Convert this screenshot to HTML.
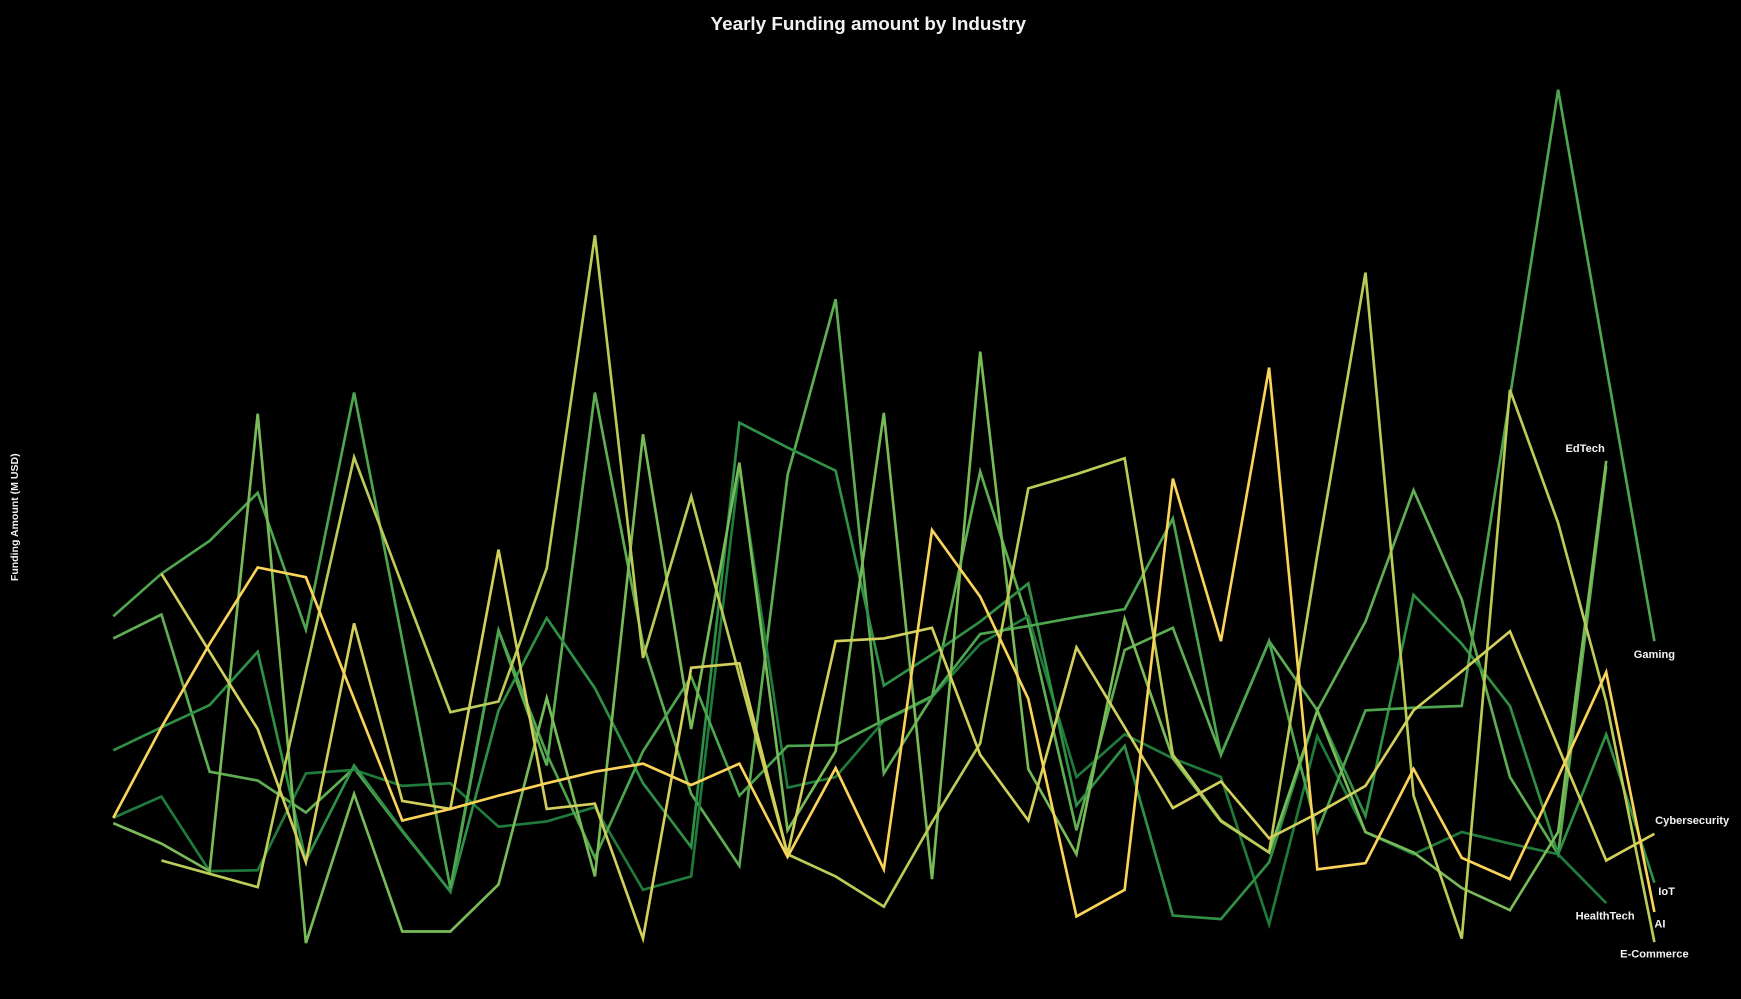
<!DOCTYPE html>
<html><head><meta charset="utf-8"><title>Yearly Funding amount by Industry</title>
<style>
html,body{margin:0;padding:0;background:#000;width:1741px;height:999px;overflow:hidden;}
svg{display:block;}
text{font-family:"Liberation Sans",sans-serif;fill:#f2f2f2;}
</style></head>
<body>
<svg id="chart" width="1741" height="999" viewBox="0 0 1568 900" preserveAspectRatio="none" xmlns="http://www.w3.org/2000/svg">
  <rect x="0" y="0" width="1568" height="900" fill="#000"/>
  <text x="782" y="27" text-anchor="middle" font-size="17" font-weight="bold">Yearly Funding amount by Industry</text>
  <text transform="translate(16,466) rotate(-90)" text-anchor="middle" font-size="9.5" font-weight="bold">Funding Amount (M USD)</text>
  <g id="lines"></g>
  <g id="labels"></g>
</svg>
<script>
const years = [];
for (let k = 0; k < 33; k++) years.push(1992 + k);
const seriesNames = ["Extra","HealthTech","IoT","Gaming","EdTech","E-Commerce","Cybersecurity","AI"];
const seriesColors = ["#5fae53","#1f7a3c","#2f9046","#4ea54f","#79bb58","#bccb57","#d2cf5c","#f9d35a"];
const aiValues = [17.9,28.1,37.5,46.1,45,31.3,17.6,18.9,20.4,21.8,23.1,24,21.6,24,13.5,23.5,12.1,50.3,42.8,31.3,6.8,9.8,56.1,37.8,68.6,12.1,12.8,23.4,13.4,11,22.5,34.3,7.3];
const cyberValues = [null,45.4,36.6,27.9,12.9,39.8,19.8,18.9,48.1,18.9,19.5,4.3,34.8,35.3,13.8,37.8,38.1,39.3,25,17.6,37.1,28.1,19,22,15.6,18.4,21.5,30,34.4,38.9,25.9,13.1,16.1];
const ecomValues = [null,13.1,11.6,10.1,34.4,58.5,44.1,29.8,31,46,83.5,35.9,54.1,33.9,13.8,11.3,7.9,17.4,26.3,55,56.6,58.4,25,17.6,14,47.5,79.3,20.4,4.3,66.1,51.1,31,3.9];
const gamingValues = [40.6,45.4,49.1,54.5,39.1,65.8,37.9,10,39,25.1,13.4,25.4,33.8,20.4,26,26.1,28.9,31.6,38.6,39.5,40.5,41.4,51.6,25,37.8,16.3,30,30.3,30.5,65.3,99.9,68.8,37.8];
const edtechValues = [17.3,15,11.9,63.4,3.8,20.6,5.1,5.1,10.4,31.4,11.3,61.1,27.9,57.9,16.5,25.4,63.5,11,70.4,23.4,13.8,40.3,24.6,17.5,14,30,16.3,14,10,7.5,16.3,58.1,null];
const extraValues = [38.1,40.8,23.1,22.1,18.5,23.5,16.4,9.6,39,23.8,65.8,37.5,20.6,12.5,56.5,76.3,22.9,31.5,56.9,40,16.5,36.8,39.3,25,37.8,30,40,54.8,42.5,22.5,13.8,57.5,null];
const iotValues = [25.5,28.1,30.6,36.6,13.1,23.8,16.5,9.6,30,40.4,32.5,21.8,14.6,62.4,59.6,57,32.8,36.3,40,44.3,19.3,26,6.9,6.5,12.9,30,18.1,43,37.5,30.5,13.8,27.3,10.6];
const healthValues = [17.9,20.3,11.9,12,22.9,23.3,21.5,21.8,16.9,17.5,19.1,9.8,11.3,57.5,21.3,22.5,28.8,31.5,37.5,40.6,22.5,27.3,24.6,22.5,5.9,27.1,16.3,13.8,16.3,15,13.8,8.3,null];
const allSeries = [extraValues,healthValues,iotValues,gamingValues,edtechValues,ecomValues,cyberValues,aiValues];
const labelText = ["","HealthTech","IoT","Gaming","EdTech","E-Commerce","Cybersecurity","AI"];
const labelOffsetDx = [0,-1,11,0,-19,0,34,5];
const labelOffsetDy = [0,15,11,15,-8,14,-9,14];

function xScale(i){ return 102 + i * 43.375; }
function yScale(v){ return (110 - v) * 8; }

const NS = "http://www.w3.org/2000/svg";
const gLines = document.getElementById("lines");
const gLabels = document.getElementById("labels");
allSeries.forEach((vals, s) => {
  let d = "";
  let last = null;
  vals.forEach((v, i) => {
    if (v === null) return;
    d += (d === "" ? "M" : "L") + xScale(i).toFixed(1) + "," + yScale(v).toFixed(1);
    last = i;
  });
  const p = document.createElementNS(NS, "path");
  p.setAttribute("d", d);
  p.setAttribute("fill", "none");
  p.setAttribute("stroke", seriesColors[s]);
  p.setAttribute("stroke-width", "2.4");
  p.setAttribute("stroke-linejoin", "miter");
  
  
  gLines.appendChild(p);
  if (labelText[s]) {
    const t = document.createElementNS(NS, "text");
    t.setAttribute("x", xScale(last) + labelOffsetDx[s]);
    t.setAttribute("y", yScale(vals[last]) + labelOffsetDy[s]);
    t.setAttribute("text-anchor", "middle");
    t.setAttribute("font-size", "10");
    t.setAttribute("font-weight", "bold");
    t.textContent = labelText[s];
    
    
    gLabels.appendChild(t);
  }
});
</script>
</body></html>
